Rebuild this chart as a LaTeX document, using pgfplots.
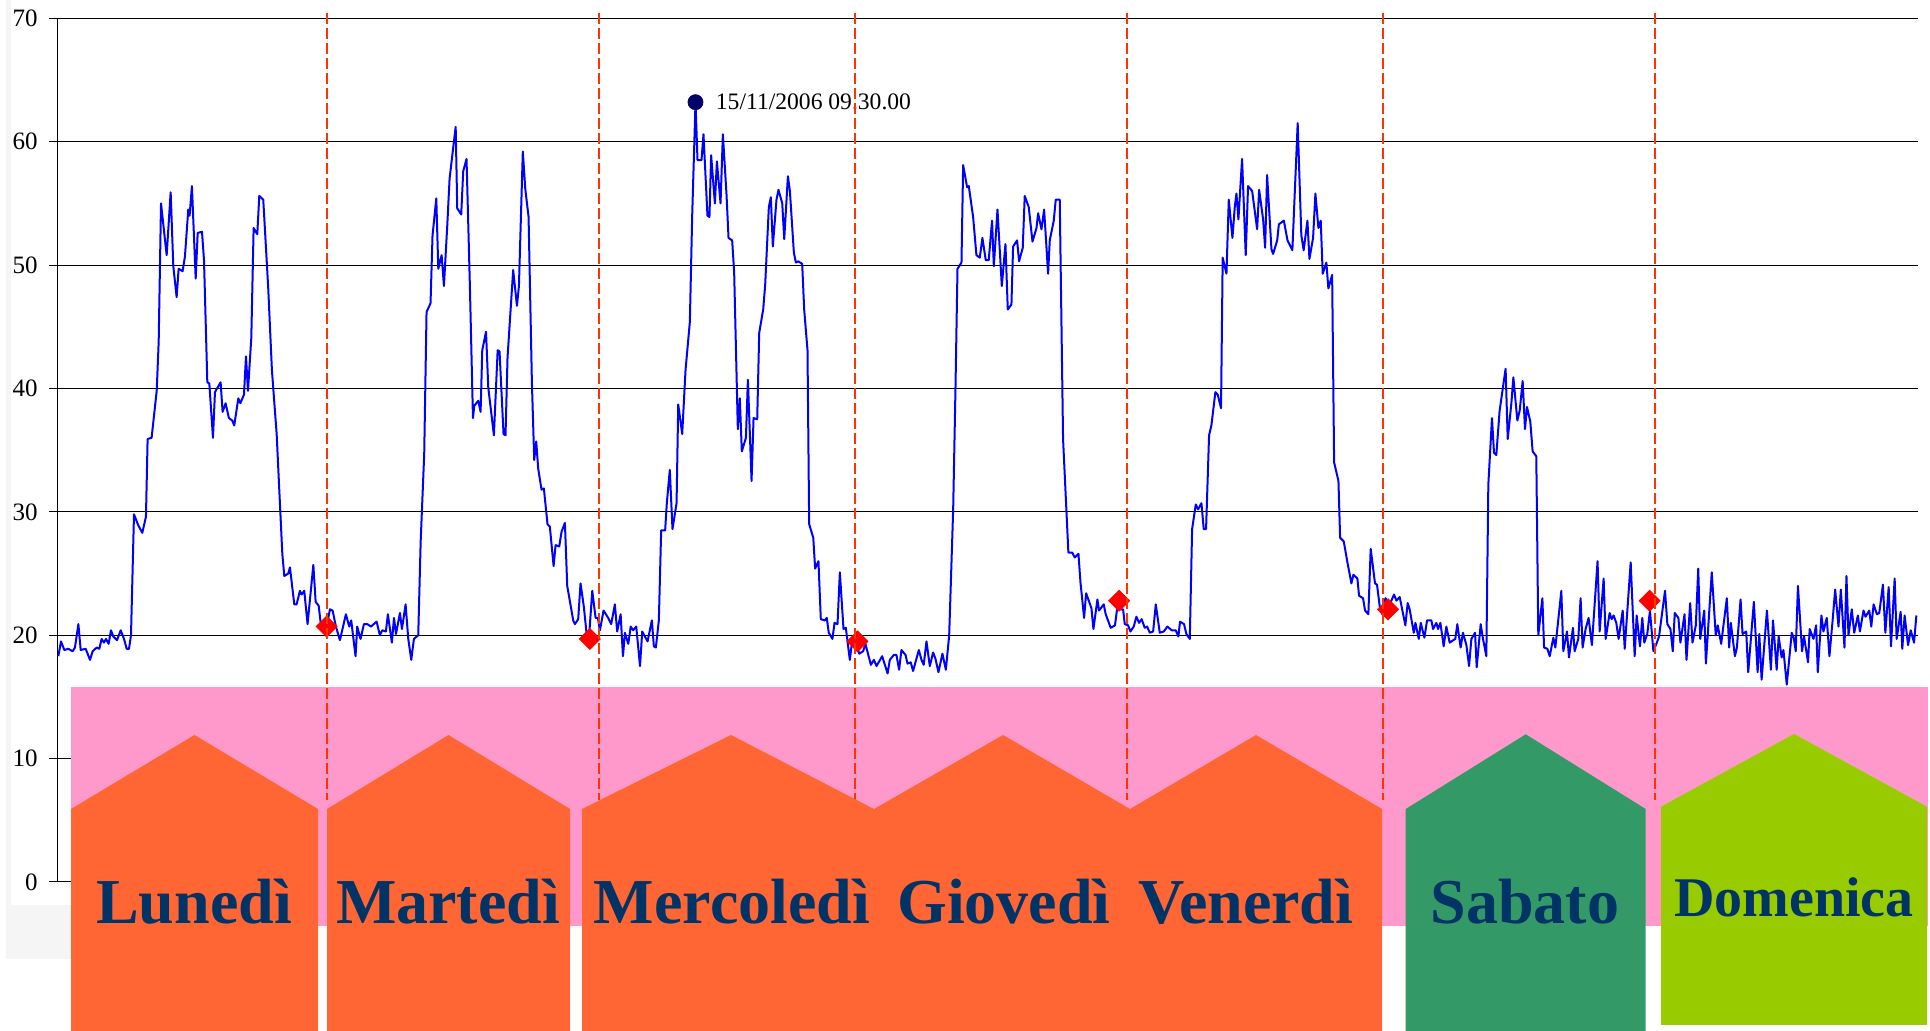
\documentclass[border=0pt]{standalone}
\usepackage{fontspec}
\setmainfont{Liberation Serif}
\usepackage{pgfplots}
\pgfplotsset{compat=1.18}
\definecolor{pinkband}{HTML}{FF99CC}
\definecolor{orangebox}{HTML}{FF6633}
\definecolor{greenbox}{HTML}{339966}
\definecolor{limebox}{HTML}{99CC00}
\definecolor{navytext}{HTML}{003366}
\definecolor{dashred}{HTML}{FF3300}
\definecolor{ptnavy}{HTML}{000066}
\definecolor{framegray}{HTML}{F5F5F5}
\definecolor{lineblue}{HTML}{0000FF}
\begin{document}
\begin{tikzpicture}[x=0.5pt,y=0.5pt]
\useasboundingbox (0,0) rectangle (1930,1031);
\fill[framegray] (6,72) rectangle (71,1031);
\fill[white] (11,126) rectangle (71,1031);
\begin{axis}[
  at={(28.5pt,74.5pt)}, anchor=south west,
  width=930.5pt, height=431.85pt, scale only axis,
  xmin=0, xmax=168, ymin=0, ymax=70,
  hide x axis, axis y line=left,
  y axis line style={-, black, line width=0.5pt},
  ytick={0,10,...,70},
  ymajorgrids, grid style={black, line width=0.5pt},
  tick align=outside, major tick length=4pt,
  ytick style={black, line width=0.5pt},
  yticklabel style={font=\fontsize{12.5}{14}\selectfont, anchor=east, inner sep=0pt, xshift=-5.5pt},
  /pgf/number format/assume math mode=true,
]
\addplot[lineblue, line width=1pt, mark=none, line join=round] coordinates {
(0.12,18.3)(0.36,19.5)(0.66,18.8)(1.02,18.9)(1.41,18.7)(1.62,19.0)(1.93,20.9)(2.14,18.8)(2.59,18.9)(2.98,18.0)(3.22,18.7)(3.58,19.0)(3.82,18.9)(4.03,19.7)(4.24,19.4)(4.42,19.7)(4.66,19.3)(4.87,20.4)(5.08,19.9)(5.42,19.6)(5.75,20.4)(6.05,19.7)(6.29,18.9)(6.50,18.9)(6.68,20.0)(6.95,29.8)(7.34,28.9)(7.70,28.3)(8.03,29.6)(8.18,35.9)(8.54,36.0)(9.00,39.8)(9.18,43.8)(9.39,55.0)(9.90,50.8)(10.26,55.9)(10.50,49.9)(10.80,47.4)(10.98,49.7)(11.34,49.5)(11.55,50.7)(11.85,54.5)(11.97,54.0)(12.18,56.4)(12.52,48.9)(12.70,52.6)(13.09,52.7)(13.27,50.4)(13.57,40.5)(13.75,40.4)(14.08,36.0)(14.26,39.7)(14.77,40.5)(14.95,38.1)(15.22,38.8)(15.52,37.6)(15.82,37.4)(16.00,37.0)(16.37,39.2)(16.55,38.8)(16.88,39.5)(17.06,42.6)(17.24,39.8)(17.54,44.1)(17.75,53.0)(18.08,52.5)(18.26,55.6)(18.62,55.3)(19.07,48.1)(19.40,41.5)(19.83,36.3)(20.07,31.7)(20.34,26.6)(20.52,24.8)(20.88,25.0)(21.03,25.5)(21.42,22.5)(21.63,22.5)(21.93,23.6)(22.08,23.3)(22.32,23.6)(22.62,20.9)(23.14,25.7)(23.35,22.7)(23.62,22.4)(23.83,20.8)(24.30,20.5)(24.64,22.1)(24.88,22.0)(25.18,20.7)(25.54,19.6)(26.08,21.7)(26.38,20.7)(26.56,21.2)(26.95,18.3)(27.10,20.7)(27.40,19.7)
(27.71,20.9)(28.01,20.9)(28.34,20.7)(28.85,21.1)(29.15,20.0)(29.36,20.4)(29.69,20.3)(29.87,21.7)(30.23,19.4)(30.42,21.4)(30.60,20.1)(30.96,21.8)(31.14,20.5)(31.47,22.5)(31.71,19.7)(31.98,18.0)(32.22,19.7)(32.61,20.0)(32.83,27.6)(33.15,34.7)(33.36,46.2)(33.72,46.9)(33.90,52.4)(34.24,55.4)(34.42,49.7)(34.72,50.8)(34.93,48.3)(35.23,53.2)(35.44,57.0)(35.83,60.0)(35.99,61.2)(36.13,54.6)(36.49,54.1)(36.67,57.6)(36.97,58.6)(37.27,48.4)(37.55,37.6)(37.67,38.6)(38.03,39.0)(38.24,38.1)(38.39,43.1)(38.73,44.6)(38.93,40.1)(39.44,36.2)(39.78,43.1)(39.95,43.0)(40.31,36.3)(40.49,36.2)(40.67,42.5)(41.18,49.6)(41.52,46.7)(41.70,48.3)(42.05,59.2)(42.27,56.2)(42.57,53.9)(42.87,40.5)(43.08,34.2)(43.26,35.7)(43.44,33.5)(43.74,31.8)(43.95,31.9)(44.28,29.0)(44.49,28.8)(44.83,25.6)(45.01,27.3)(45.34,27.2)(45.55,28.4)(45.85,29.1)(46.06,24.0)(46.60,21.2)(46.75,20.9)(47.05,21.3)(47.26,24.2)(47.56,22.3)(47.80,20.2)(48.04,20.0)(48.32,23.6)(48.62,21.4)(48.83,21.4)(49.01,20.4)(49.34,22.0)(49.76,21.4)(50.03,20.9)(50.36,22.5)(50.57,20.3)(50.88,21.7)(51.09,18.3)(51.27,20.2)(51.57,19.3)(51.79,20.7)(52.01,20.4)(52.29,20.7)(52.63,17.5)(52.83,20.3)(53.31,19.5)(53.70,21.2)(53.88,19.1)(54.06,19.0)(54.33,21.2)(54.54,28.5)(54.90,28.5)(55.05,30.7)
(55.32,33.4)(55.56,28.6)(55.93,30.7)(56.08,38.7)(56.44,36.3)(56.74,41.5)(57.13,45.4)(57.34,54.0)(57.64,63.2)(57.82,58.5)(58.18,58.5)(58.36,60.6)(58.72,54.0)(58.90,53.9)(59.05,58.9)(59.39,55.0)(59.57,58.4)(59.90,55.0)(60.11,60.6)(60.44,55.7)(60.62,52.2)(60.95,52.0)(61.13,49.4)(61.46,36.7)(61.64,39.2)(61.82,34.9)(62.19,36.0)(62.37,40.7)(62.70,32.5)(62.88,37.6)(63.21,37.5)(63.39,44.5)(63.75,46.4)(63.93,48.4)(64.26,54.7)(64.44,55.5)(64.62,51.5)(64.95,55.3)(65.13,56.1)(65.47,55.0)(65.65,52.1)(65.98,57.2)(66.16,56.0)(66.52,51.0)(66.70,50.2)(66.91,50.3)(67.27,50.1)(67.45,46.4)(67.75,43.1)(67.90,29.0)(68.27,27.9)(68.44,25.4)(68.74,26.0)(68.95,21.3)(69.31,21.2)(69.49,21.4)(69.67,20.2)(70.00,19.7)(70.19,21.0)(70.46,20.9)(70.67,25.1)(71.00,20.5)(71.21,20.6)(71.57,18.0)(71.75,19.3)(72.08,19.5)(72.42,18.5)(72.77,18.7)(72.98,19.3)(73.47,17.6)(73.74,18.0)(73.98,17.5)(74.49,18.3)(74.98,16.9)(75.18,18.0)(75.54,18.4)(75.78,18.4)(76.02,17.2)(76.23,18.8)(76.60,18.4)(76.78,17.7)(77.07,17.8)(77.28,17.1)(77.80,18.8)(78.04,18.0)(78.24,17.6)(78.49,19.5)(78.79,17.5)(79.09,18.6)(79.30,18.1)(79.57,17.0)(79.93,18.5)(80.24,17.2)(80.54,20.0)(80.90,30.2)(81.11,40.1)(81.29,49.7)(81.65,50.2)(81.80,58.1)(82.16,56.3)(82.31,56.4)(82.70,53.9)(83.00,50.8)
(83.30,50.6)(83.54,52.2)(83.84,50.4)(84.11,50.4)(84.41,53.6)(84.57,49.9)(84.90,54.5)(85.29,48.3)(85.62,51.7)(85.83,46.4)(86.16,46.8)(86.31,51.5)(86.67,52.0)(86.85,50.3)(87.18,51.4)(87.36,55.6)(87.72,54.7)(88.06,51.9)(88.42,53.0)(88.57,54.2)(88.87,52.9)(89.11,54.5)(89.47,49.3)(89.62,52.0)(89.98,53.6)(90.16,55.3)(90.52,55.3)(90.82,35.9)(91.30,26.7)(91.64,26.7)(91.88,26.3)(92.21,26.6)(92.39,24.3)(92.72,21.4)(92.90,23.4)(93.38,22.2)(93.56,20.5)(93.92,22.9)(94.07,22.0)(94.49,22.5)(94.67,21.7)(95.12,20.6)(95.51,20.8)(95.69,22.1)(96.24,22.1)(96.39,20.9)(96.69,20.8)(96.90,20.3)(97.20,20.7)(97.44,21.5)(97.68,21.0)(97.92,21.3)(98.19,20.6)(98.41,20.7)(98.65,20.2)(98.95,20.3)(99.19,22.5)(99.55,20.2)(99.91,20.3)(100.24,20.7)(100.63,20.4)(100.99,20.4)(101.23,19.9)(101.38,21.1)(101.74,20.9)(101.95,20.1)(102.26,19.7)(102.47,28.6)(102.80,30.6)(103.01,30.2)(103.31,30.7)(103.52,28.6)(103.73,28.6)(104.00,36.2)(104.21,37.0)(104.57,39.7)(104.78,39.5)(105.08,38.4)(105.23,50.6)(105.57,49.3)(105.78,55.3)(106.11,52.2)(106.32,54.7)(106.47,55.8)(106.65,53.7)(106.98,58.6)(107.31,50.8)(107.52,56.4)(107.89,56.0)(108.34,52.9)(108.52,56.1)(108.88,53.7)(109.06,51.4)(109.24,57.3)(109.63,51.3)(109.78,50.9)(110.15,52.0)(110.30,53.3)(110.75,53.6)(111.08,52.0)
(111.52,51.2)(112.00,61.5)(112.33,52.4)(112.54,51.2)(112.88,53.6)(113.06,50.5)(113.39,52.2)(113.60,55.8)(113.87,53.0)(114.08,53.6)(114.26,49.3)(114.59,50.2)(114.77,48.1)(115.11,49.2)(115.29,34.0)(115.68,32.5)(115.83,27.9)(116.16,27.6)(116.49,25.9)(116.85,24.2)(117.03,24.9)(117.39,24.6)(117.54,23.2)(117.90,23.0)(118.08,22.0)(118.38,21.7)(118.59,27.0)(118.98,24.2)(119.16,24.1)(119.44,22.1)(119.65,21.7)(119.92,23.0)(120.31,22.5)(120.70,23.3)(120.91,22.8)(121.21,23.1)(121.72,20.8)(121.93,22.6)(122.11,22.1)(122.48,20.2)(122.63,21.0)(122.93,19.7)(123.11,21.0)(123.44,19.8)(123.68,21.2)(124.07,21.2)(124.22,20.5)(124.52,21.0)(124.67,20.5)(124.88,21.0)(125.18,19.1)(125.42,20.7)(125.72,19.4)(126.23,19.7)(126.41,20.9)(126.71,19.0)(126.92,20.2)(127.23,19.2)(127.47,17.5)(127.68,19.7)(128.01,20.2)(128.16,17.4)(128.52,20.9)(128.73,19.7)(129.03,18.3)(129.21,32.2)(129.54,37.6)(129.72,34.8)(129.93,34.6)(130.23,38.2)(130.77,41.6)(130.96,35.9)(131.29,38.8)(131.47,40.9)(131.83,37.4)(132.04,38.2)(132.31,40.6)(132.52,36.7)(132.70,38.5)(133.00,37.3)(133.21,34.9)(133.54,34.5)(133.72,20.0)(134.09,23.0)(134.24,19.0)(134.54,18.9)(134.75,18.3)(135.08,19.8)(135.26,19.0)(135.80,23.6)(135.98,18.7)(136.31,20.3)(136.49,18.2)(136.85,20.6)(137.00,18.7)(137.33,19.7)(137.54,23.0)(137.72,19.0)(137.99,20.5)(138.26,21.4)(138.56,19.2)(139.07,26.0)
(139.26,20.3)(139.62,24.6)(139.80,19.7)(140.16,21.8)(140.34,21.3)(140.52,21.6)(140.76,21.0)(140.97,19.7)(141.34,22.0)(141.52,18.9)(142.06,25.9)(142.42,18.3)(142.60,21.6)(142.90,19.1)(143.11,21.4)(143.29,19.4)(143.56,20.1)(143.80,22.0)(144.11,18.7)(144.38,19.3)(144.62,19.9)(145.16,23.6)(145.37,20.9)(145.65,20.5)(145.86,18.7)(146.04,21.8)(146.37,21.4)(146.55,19.4)(146.92,21.7)(147.10,18.0)(147.43,22.6)(147.64,19.4)(147.94,20.8)(148.16,25.4)(148.34,19.7)(148.70,22.0)(148.85,17.7)(149.38,25.1)(149.74,20.0)(149.92,20.8)(150.23,19.3)(150.74,23.0)(150.95,19.0)(151.10,21.0)(151.47,18.3)(151.65,19.0)(151.98,22.9)(152.16,20.1)(152.49,20.3)(152.67,17.0)(153.18,22.7)(153.52,17.0)(153.67,20.1)(153.88,16.4)(154.36,22.0)(154.72,17.2)(154.91,21.2)(155.24,17.2)(155.42,19.9)(155.69,18.2)(155.85,18.8)(156.15,16.0)(156.60,20.2)(156.78,19.8)(156.96,18.7)(157.16,24.0)(157.53,18.7)(157.71,19.9)(158.07,17.8)(158.22,20.5)(158.56,19.7)(158.80,20.8)(158.95,17.0)(159.28,21.6)(159.46,20.3)(159.76,21.4)(160.00,18.3)(160.28,21.1)(160.52,23.7)(160.82,20.7)(161.03,23.7)(161.36,19.0)(161.54,24.8)(161.72,20.0)(162.02,22.1)(162.24,20.2)(162.57,21.6)(162.75,20.3)(163.08,22.0)(163.26,21.5)(163.60,22.0)(163.78,20.7)(163.99,22.5)(164.29,21.7)(164.50,21.8)(164.83,24.1)(165.05,20.2)(165.35,23.9)(165.56,19.1)(165.89,24.6)(166.07,19.7)(166.43,21.9)(166.58,18.9)(166.79,21.6)(167.10,19.2)(167.34,20.4)(167.64,19.4)(167.85,21.6)
};
\addplot[only marks, mark=square*, mark size=3.7pt, color=red, mark options={rotate=45, fill=red, draw=red}] coordinates {
(24.34,20.7)(48.10,19.7)(72.26,19.5)(95.88,22.8)(120.16,22.1)(143.77,22.8)
};
\addplot[only marks, mark=*, mark size=3.75pt, color=ptnavy, mark options={fill=ptnavy, draw=ptnavy}] coordinates {(57.64,63.2)};
\node[anchor=west, inner sep=0pt, xshift=10pt, font=\fontsize{11.8}{14}\selectfont] at (axis cs:57.64,63.2) {15/11/2006 09.30.00};
\end{axis}
% pink band
\fill[pinkband] (71,105) rectangle (1928,344);
% day separators
\foreach \xx in {326.7,598.7,855,1126.7,1383,1655}
  \draw[dashred, line width=1pt, dash pattern=on 5.5pt off 2pt] (\xx,1018) -- (\xx,231);
% day boxes
\fill[orangebox] (71,0) -- (71,222) -- (194.5,296) -- (318,222) -- (318,0) -- cycle;
\fill[orangebox] (327,0) -- (327,222) -- (448.5,296) -- (570,222) -- (570,0) -- cycle;
\fill[orangebox] (582,0) -- (582,222) -- (731,296) -- (874,222) -- (1003,296) -- (1130,222) -- (1256,296) -- (1382,222) -- (1382,0) -- cycle;
\fill[greenbox] (1405.7,0) -- (1405.7,222) -- (1525.7,296.7) -- (1645.7,222) -- (1645.7,0) -- cycle;
\fill[limebox] (1661,6) -- (1661,224.3) -- (1794,297) -- (1927,224.3) -- (1927,6) -- cycle;
% labels
\begin{scope}[every node/.style={anchor=base, inner sep=0pt, text=navytext, font=\fontsize{32}{36}\selectfont\bfseries}]
\node at (194,107) {Lunedì};
\node at (448,107) {Martedì};
\node at (732,107) {Mercoledì};
\node at (1004,107) {Giovedì};
\node at (1246,107) {Venerdì};
\node at (1525,107) {Sabato};
\node[font=\fontsize{28}{32}\selectfont\bfseries] at (1794,114.3) {Domenica};
\end{scope}
\end{tikzpicture}
\end{document}
